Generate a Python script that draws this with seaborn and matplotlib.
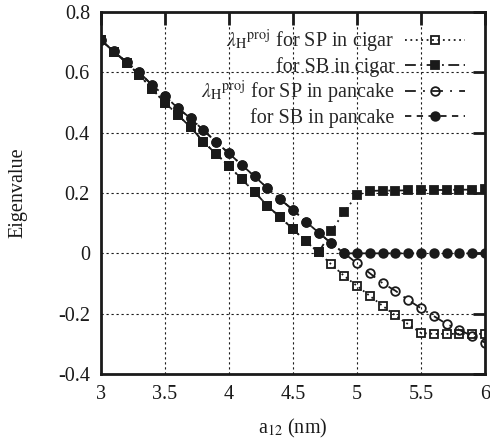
import matplotlib
matplotlib.use("Agg")
import matplotlib.pyplot as plt
import seaborn as sns
import pandas as pd

a12 = [3.0, 3.1, 3.2, 3.3, 3.4, 3.5, 3.6, 3.7, 3.8, 3.9, 4.0,
       4.1, 4.2, 4.3, 4.4, 4.5, 4.6, 4.7, 4.8, 4.9, 5.0,
       5.1, 5.2, 5.3, 5.4, 5.5, 5.6, 5.7, 5.8, 5.9, 6.0]

sb_cigar = [0.707, 0.668, 0.632, 0.591, 0.544, 0.499, 0.459, 0.418, 0.370, 0.329, 0.290,
            0.245, 0.204, 0.157, 0.120, 0.080, 0.040, 0.003, 0.073, 0.138, 0.193,
            0.207, 0.208, 0.208, 0.209, 0.209, 0.210, 0.210, 0.211, 0.211, 0.212]

sp_cigar = [0.707, 0.668, 0.632, 0.591, 0.544, 0.499, 0.459, 0.418, 0.370, 0.329, 0.290,
            0.245, 0.204, 0.157, 0.120, 0.080, 0.040, 0.003, -0.037, -0.075, -0.108,
            -0.141, -0.174, -0.206, -0.235, -0.264, -0.267, -0.267, -0.267, -0.267, -0.267]

sb_pancake = [0.707, 0.670, 0.634, 0.600, 0.557, 0.522, 0.481, 0.448, 0.408, 0.369, 0.331,
              0.293, 0.255, 0.216, 0.179, 0.144, 0.105, 0.069, 0.033, 0.0, 0.0,
              0.0, 0.0, 0.0, 0.0, 0.0, 0.0, 0.0, 0.0, 0.0, 0.0]

sp_pancake = [0.707, 0.670, 0.634, 0.600, 0.557, 0.522, 0.481, 0.448, 0.408, 0.369, 0.331,
              0.293, 0.255, 0.216, 0.179, 0.144, 0.105, 0.069, 0.033, 0.0, -0.033,
              -0.066, -0.099, -0.124, -0.155, -0.182, -0.208, -0.234, -0.254, -0.274, -0.296]

labels = [r"$\lambda_{\mathrm{H}}{}^{\mathrm{proj}}$ for SP in cigar",
          "for SB in cigar",
          r"$\lambda_{\mathrm{H}}{}^{\mathrm{proj}}$ for SP in pancake",
          "for SB in pancake"]

x_ticks = [3, 3.5, 4, 4.5, 5, 5.5, 6]
x_tick_labels = ["3", "3.5", "4", "4.5", "5", "5.5", "6"]
y_ticks = [-0.4, -0.2, 0, 0.2, 0.4, 0.6, 0.8]
y_tick_labels = ["-0.4", "-0.2", "0", "0.2", "0.4", "0.6", "0.8"]

sns.set_theme(style="white")
plt.rcParams["font.family"] = ["Liberation Serif", "DejaVu Serif"]
plt.rcParams["mathtext.fontset"] = "stix"

fig = plt.figure(figsize=(4.9, 4.45), dpi=100)
ax = fig.add_axes([101 / 490, 1 - 374 / 445, 384 / 490, 362 / 445])

fs = 14.5
series = [
    (sp_cigar, labels[0], "s", "none", (0, (1, 2))),
    (sb_cigar, labels[1], "s", "k", (0, (6, 2.5, 1, 2.5))),
    (sp_pancake, labels[2], "o", "none", (0, (6, 4, 1, 4))),
    (sb_pancake, labels[3], "o", "k", (0, (3.5, 3))),
]
for vals, lab, mk, mfc, ls in series:
    df = pd.DataFrame({"a12": a12, "val": vals})
    sns.lineplot(data=df, x="a12", y="val", ax=ax, color="k", marker=mk,
                 markersize=6.2, markerfacecolor=mfc, markeredgecolor="k",
                 markeredgewidth=1.3, linewidth=1.3, linestyle=ls, label=lab)

ax.set_xlim(3, 6)
ax.set_ylim(-0.4, 0.8)
ax.set_xticks(x_ticks)
ax.set_xticklabels(x_tick_labels)
ax.set_yticks(y_ticks)
ax.set_yticklabels(y_tick_labels)
ax.tick_params(direction="in", length=9, width=2, top=True, right=True,
               labelsize=fs, pad=8, colors="k")
ax.grid(True, color="k", linestyle=(0, (2, 2.5)), linewidth=0.8)
for sp in ax.spines.values():
    sp.set_color("k")
    sp.set_linewidth(2)

ax.set_xlabel(r"a$_{12}$ (nm)", fontsize=fs, labelpad=9, color="k")
ax.set_ylabel("Eigenvalue", fontsize=fs, labelpad=22, color="k")

leg = ax.legend(loc="upper right", bbox_to_anchor=(0.948, 0.955), frameon=False,
                markerfirst=False, fontsize=fs, handlelength=3.0, handletextpad=0.5,
                labelspacing=0.1, borderpad=0, borderaxespad=0)

fig.savefig("out.png", dpi=100)
